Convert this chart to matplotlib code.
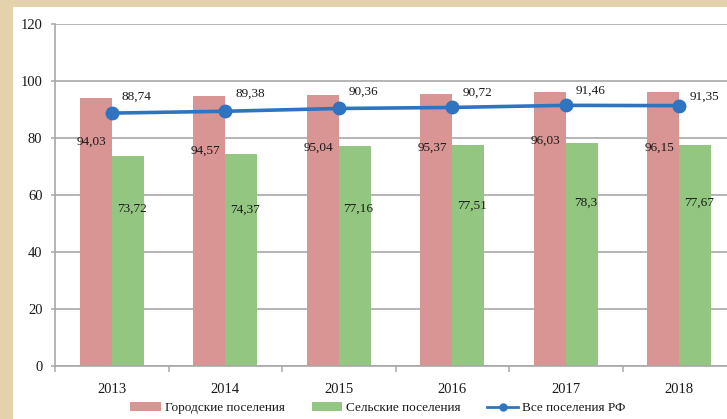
import matplotlib
matplotlib.use("Agg")
import matplotlib.pyplot as plt
from matplotlib.patches import Rectangle, Patch
from matplotlib.lines import Line2D
import numpy as np

# ---- data ----
years = ["2013", "2014", "2015", "2016", "2017", "2018"]
urban = [94.03, 94.57, 95.04, 95.37, 96.03, 96.15]
rural = [73.72, 74.37, 77.16, 77.51, 78.3, 77.67]
total = [88.74, 89.38, 90.36, 90.72, 91.46, 91.35]
series_names = ["Городские поселения", "Сельские поселения", "Все поселения РФ"]
y_ticks = [0, 20, 40, 60, 80, 100, 120]

# ---- label placement (style, data-unit heights of the hand-placed labels) ----
urban_label_y = [78.6, 75.4, 76.5, 76.5, 78.9, 76.5]
rural_label_y = [55.1, 54.7, 55.1, 56.1, 57.2, 57.2]
total_label_y = [94.4, 95.4, 96.1, 95.8, 96.5, 94.4]

def fmt(v):
    s = ("%.2f" % v).rstrip("0").rstrip(".")
    return s.replace(".", ",")

RED = "#d99593"
GREEN = "#93c781"
BLUE = "#2f74c0"
GRID = "#a8a8a8"
TXT = "#1a1a1a"

plt.rcParams["font.family"] = ["Liberation Serif", "DejaVu Serif"]

W, H = 727, 419
fig = plt.figure(figsize=(W / 100, H / 100), dpi=100)
fig.patch.set_facecolor("#e4d2ad")
# white chart area (beige frame visible on left and top)
fig.patches.append(Rectangle((13 / W, 0), 1, (H - 7) / H, transform=fig.transFigure,
                             facecolor="white", edgecolor="none", zorder=-5))

left_px, right_px = 55, 55 + 6 * 113.5
ax = fig.add_axes([left_px / W, (H - 366) / H, (right_px - left_px) / W, (366 - 24) / H])
ax.set_facecolor("white")
ax.set_zorder(2)

x = np.arange(len(years))
bw = 0.28
ax.bar(x - bw / 2, urban, bw, color=RED, zorder=2, label=series_names[0])
ax.bar(x + bw / 2, rural, bw, color=GREEN, zorder=2, label=series_names[1])
ax.plot(x, total, color=BLUE, lw=2.6, marker="o", ms=9, zorder=3, label=series_names[2])

ax.set_xlim(-0.5, len(years) - 0.5)
ax.set_ylim(0, 120)
ax.set_yticks(y_ticks)
ax.set_yticklabels([str(t) for t in y_ticks], fontsize=10.5, color=TXT)
ax.yaxis.grid(True, color=GRID, lw=1.2, zorder=0)
ax.set_axisbelow(True)
ax.tick_params(axis="y", length=3, width=1.1, color=GRID, pad=6)

ax.set_xticks(x)
ax.set_xticklabels(years, fontsize=10.5, color=TXT)
ax.set_xticks(np.arange(-0.5, len(years) + 0.5, 1.0), minor=True)
ax.tick_params(axis="x", which="major", length=0, pad=12)
ax.tick_params(axis="x", which="minor", length=4, width=1.1, color=GRID)

for s in ["top", "right"]:
    ax.spines[s].set_visible(False)
for s in ["left", "bottom"]:
    ax.spines[s].set_color(GRID)
    ax.spines[s].set_linewidth(1.2)

lbl_kw = dict(fontsize=9.5, color=TXT, ha="center", va="center", zorder=5)
for i in range(len(years)):
    ax.text(x[i] - 0.175, urban_label_y[i], fmt(urban[i]), **lbl_kw)
    ax.text(x[i] + 0.175, rural_label_y[i], fmt(rural[i]), **lbl_kw)
    ax.text(x[i] + 0.22, total_label_y[i], fmt(total[i]), **lbl_kw)

handles = [
    Patch(facecolor=RED, edgecolor="none"),
    Patch(facecolor=GREEN, edgecolor="none"),
    Line2D([], [], color=BLUE, lw=2, marker="o", ms=5),
]
leg = fig.legend(handles, series_names, loc="center", bbox_to_anchor=(378 / W, (H - 408) / H),
                 ncol=3, frameon=False, fontsize=9.5, handlelength=2.3, handleheight=0.6,
                 handletextpad=0.35, columnspacing=2.0, labelcolor=TXT)

fig.savefig("out.png", dpi=100, facecolor=fig.get_facecolor())
